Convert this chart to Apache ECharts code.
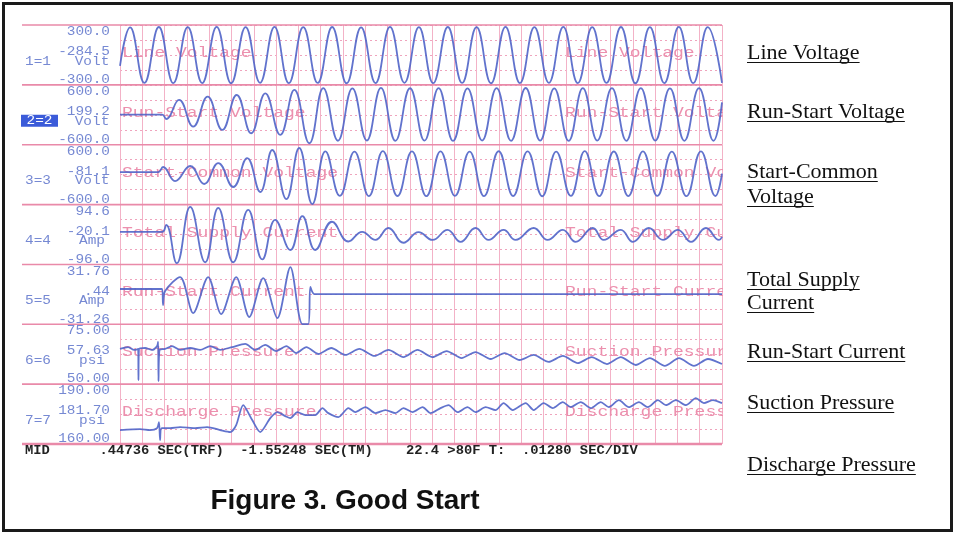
<!DOCTYPE html>
<html><head><meta charset="utf-8">
<script src="https://cdn.jsdelivr.net/npm/echarts@6/dist/echarts.min.js"></script>
<style>html,body{margin:0;padding:0;background:#fff}#c{width:955px;height:534px}</style>
</head><body><div id="c"></div>
<script>
// ---------------- data ----------------
const channelNames = ['Line Voltage','Run-Start Voltage','Start-Common Voltage','Total Supply Current','Run-Start Current','Suction Pressure','Discharge Pressure'];
const channelNamesRight = ['Line Voltage','Run-Start Volta','Start-Common Vo','Total Supply Cu','Run-Start Curre','Suction Pressur','Discharge Press'];
const channelIds = ['1=1','2=2','3=3','4=4','5=5','6=6','7=7'];
const channelUnits = ['Volt','Volt','Volt','Amp','Amp','psi','psi'];
const labelTop = ['300.0','600.0','600.0','94.6','31.76','75.00','190.00'];
const labelMid = ['-284.5','199.2','-81.1','-20.1','.44','57.63','181.70'];
const labelBottom = ['-300.0','-600.0','-600.0','-96.0','-31.26','50.00','160.00'];
const scaleMax = [300, 600, 600, 94.6, 31.76, 75, 190];
const scaleMin = [-300, -600, -600, -96, -31.26, 50, 160];
const msPerDiv = 12.8;
const divisions = 27;
const legendRight = ['Line Voltage','Run-Start Voltage','Start-Common','Voltage','Total Supply','Current','Run-Start Current','Suction Pressure','Discharge Pressure'];
const footerText = 'MID      .44736 SEC(TRF)  -1.55248 SEC(TM)    22.4 >80F T:  .01280 SEC/DIV';
const titleText = 'Figure 3. Good Start';

// time (ms) / value pairs
const lineVoltageT = [0,5.8,14.0,22.3,30.6,38.9,47.2,55.5,63.8,72.1,80.4,88.7,96.9,105.2,113.5,121.8,130.1,138.4,146.7,155.0,163.3,171.6,179.8,188.2,196.4,204.7,213.0,221.3,229.6,237.9,246.2,254.5,262.8,271.1,279.3,287.6,295.9,304.2,312.5,320.8,329.1,337.4,345.6];
const lineVoltageV = [-110,276,-281,280,-283,278,-282,281,-284,279,-280,282,-283,278,-281,280,-284,277,-282,281,-280,279,-283,280,-281,278,-284,281,-282,279,-280,282,-283,278,-281,280,-284,279,-282,281,-283,278,-279];

const runStartVoltT = [0,24.2,26.5,33.9,42.0,50.3,58.7,67.0,75.3,83.4,92.0,100.1,108.7,116.7,125.1,133.4,141.7,149.8,158.1,166.5,174.8,182.9,191.2,199.5,207.9,216.2,224.5,232.9,241.2,249.3,257.6,265.7,274.0,282.4,290.7,299.0,307.3,315.7,324.0,332.4,340.7,345.6];
const runStartVoltV = [5,5,-84,297,-238,363,-304,397,-370,431,-404,498,-571,535,-520,530,-515,538,-522,532,-518,536,-524,530,-516,534,-521,537,-519,531,-523,535,-517,533,-522,536,-518,530,-521,534,-520,250];

const startCommonT = [0,21.9,24.7,31.6,40.3,48.3,56.4,65.0,73.0,80.5,87.4,95.5,102.9,110.4,117.9,126.2,134.6,142.9,150.9,159.3,167.6,175.9,184.0,192.3,200.7,209.0,217.4,225.7,234.0,242.4,250.4,258.8,266.8,275.1,283.5,291.8,300.2,308.5,316.8,325.2,333.5,341.8,345.6];
const startCommonV = [50,50,153,-128,173,-187,233,-248,333,-348,494,-489,534,-589,468,-425,462,-430,470,-428,465,-432,468,-426,463,-430,469,-428,466,-433,462,-427,470,-431,464,-429,467,-425,463,-430,468,-428,20];

const supplyCurrentT = [0,24.2,26.5,32.6,40.3,48.9,56.4,65.0,73.6,81.7,89.1,97.8,104.7,112.1,121.7,131.1,139.0,146.6,154.1,162.7,171.4,179.4,188.0,195.5,204.1,211.6,220.2,227.1,237.5,245.5,254.2,261.6,271.4,277.7,287.5,294.4,303.6,311.7,320.3,327.8,336.4,343.9,345.6];
const supplyCurrentV = [8,8,30,-92,87,-89,84,-89,78,-80,46,-50,58,-50,40,-23,8,-18,20,-27,7,-18,14,-24,20,-18,14,-18,20,-18,14,-24,20,-18,14,-24,20,-18,14,-24,20,-18,-8];

const runStartCurrentT = [0,24.2,24.7,25.9,34.5,42.0,50.6,58.1,66.7,74.2,82.2,90.3,97.8,104.7,108.1,109.3,111.6,345.6];
const runStartCurrentV = [5.9,5.9,-11.0,3.8,18.5,-19.4,18.5,-20.5,18.5,-23.6,17.4,-24.7,29.0,-31.0,-31.0,8.0,0.6,0.6];

const suctionT = [0,4.6,8.1,10.4,10.6,10.9,14.4,18.4,21.3,21.9,22.1,22.7,25.9,29.9,34.5,40.3,46.0,51.8,57.5,64.4,71.9,77.6,83.4,89.7,95.5,101.2,107.0,113.9,121.3,129.4,137.4,146.1,154.1,162.7,170.8,179.4,187.5,196.1,204.1,212.8,220.8,229.4,237.5,246.1,254.2,262.8,270.8,279.5,287.5,296.1,304.2,312.8,320.9,329.5,337.5,345.6];
const suctionV = [64.7,65.5,64.3,64.7,51.7,64.7,65.1,64.3,65.9,67.6,51.3,64.3,64.7,65.9,64.3,65.1,64.3,65.9,64.3,65.5,66.8,64.3,66.4,63.8,65.9,63.0,65.5,62.6,65.1,62.2,64.7,61.8,64.3,61.3,64.3,61.3,63.8,60.9,63.4,60.5,63.0,60.1,62.2,59.3,61.8,58.8,61.3,58.4,61.3,58.0,60.9,57.6,60.9,57.6,60.5,58.4];

const dischargeT = [0,11.5,17.3,21.3,22.4,23.0,23.9,28.8,34.5,43.1,50.0,57.5,63.3,66.7,70.7,75.9,80.5,86.3,90.3,94.9,97.8,101.8,106.4,112.1,116.2,119.6,125.4,131.1,135.1,140.9,146.6,152.4,158.1,162.7,167.9,173.7,178.3,184.0,188.6,193.8,199.5,204.1,209.9,215.6,220.2,225.4,232.9,237.5,243.2,248.4,254.2,258.8,264.5,270.3,276.0,280.6,286.4,292.1,297.9,303.0,308.8,313.4,319.1,324.9,330.6,335.2,340.4,345.6];
const dischargeV = [167.0,167.5,167.0,168.0,171.0,162.0,168.0,168.0,168.5,168.0,168.5,167.0,166.0,169.5,179.5,172.0,166.0,173.0,176.0,174.0,173.0,176.0,174.5,174.5,178.0,175.5,173.5,178.0,176.0,178.5,175.5,177.0,175.5,178.0,176.0,178.5,175.5,178.0,179.5,176.0,178.5,176.0,178.5,177.0,180.5,177.0,180.5,177.0,180.5,178.0,181.0,178.5,181.0,178.0,181.0,178.5,182.0,178.5,181.0,178.5,182.0,179.5,182.0,179.5,183.0,180.5,182.0,180.5];

const traceT = [lineVoltageT, runStartVoltT, startCommonT, supplyCurrentT, runStartCurrentT, suctionT, dischargeT];
const traceV = [lineVoltageV, runStartVoltV, startCommonV, supplyCurrentV, runStartCurrentV, suctionV, dischargeV];
const traceSmooth = [0.45, 0.45, 0.45, 0.45, 0.3, 0.25, 0.25];

// ---------------- layout / style ----------------
const PL = 120, PR = 722, PT = 25, SH = 59.86;
const PINK_MAJOR = '#e98aa9', PINK_GRID = '#f3b2c7', PINK_DOT = '#efa4bd';
const TRACE = '#5064c8', LABEL_BLUE = '#7689d3', NAME_PINK = '#ec90ae';
const monoLbl = '12px "Liberation Mono", "DejaVu Sans Mono", monospace';
const monoName = '15px "Liberation Mono", "DejaVu Sans Mono", monospace';

const chart = echarts.init(document.getElementById('c'), null, {renderer: 'canvas'});
const grids = [], xAxes = [], yAxes = [], series = [], graphics = [];
const zip = (a, b) => a.slice(0, Math.min(a.length, b.length)).map((t, i) => [t, b[i]]);
const txt = (s, x, y, font, fill, align, sx, z) => ({type: 'text', x: x, y: y, scaleX: sx || 1, z: z || 5,
  style: {text: s, x: 0, y: 0, font: font, fill: fill, textAlign: align, textVerticalAlign: 'middle'}});

for (let i = 0; i < 7; i++) {
  const top = PT + i * SH;
  grids.push({left: PL, top: top, width: PR - PL, height: SH, containLabel: false});
  xAxes.push({type: 'value', gridIndex: i, min: 0, max: msPerDiv * divisions, interval: msPerDiv,
    axisLine: {show: false}, axisTick: {show: false}, axisLabel: {show: false},
    splitLine: {show: true, lineStyle: {color: PINK_GRID, width: 1}}});
  yAxes.push({type: 'value', gridIndex: i, min: scaleMin[i], max: scaleMax[i], show: false});
  yAxes.push({type: 'value', gridIndex: i, min: 0, max: 4, interval: 1,
    axisLine: {show: false}, axisTick: {show: false}, axisLabel: {show: false},
    splitLine: {show: true, lineStyle: {color: PINK_DOT, width: 1, type: [2, 3]}}});
  series.push({type: 'line', name: channelNames[i], xAxisIndex: i, yAxisIndex: 2 * i,
    data: zip(traceT[i], traceV[i]), showSymbol: false, symbol: 'none', smooth: traceSmooth[i],
    lineStyle: {color: TRACE, width: 1.8, opacity: 0.9}, z: 4, animation: false});

  graphics.push(txt(labelTop[i], 110, top + 7, monoLbl, LABEL_BLUE, 'right', 1.2));
  graphics.push(txt(labelMid[i], 110, top + 27, monoLbl, LABEL_BLUE, 'right', 1.2));
  graphics.push(txt(channelUnits[i], 92, top + 36.5, monoLbl, LABEL_BLUE, 'center', 1.2));
  graphics.push(txt(labelBottom[i], 110, top + 55, monoLbl, LABEL_BLUE, 'right', 1.2));
  if (i === 1) {
    graphics.push({type: 'rect', z: 5, shape: {x: 21, y: top + 30, width: 37, height: 12}, style: {fill: '#3b5bd9'}});
    graphics.push(txt(channelIds[i], 39.5, top + 36, monoLbl, '#ffffff', 'center', 1.2, 6));
  } else {
    graphics.push(txt(channelIds[i], 25, top + 36.5, monoLbl, LABEL_BLUE, 'left', 1.2));
  }
  graphics.push(txt(channelNames[i], 122, top + 28, monoName, NAME_PINK, 'left', 1.2, 3));
  graphics.push(txt(channelNamesRight[i], 565, top + 28, monoName, NAME_PINK, 'left', 1.2, 3));
}
// white margin that trims the pink names at the plot's right edge
graphics.push({type: 'rect', z: 3.5, shape: {x: 723, y: 20, width: 20, height: 428}, style: {fill: '#ffffff'}});
// channel boundary lines
for (let i = 0; i <= 7; i++) {
  const y = PT + i * SH;
  graphics.push({type: 'line', z: 2, shape: {x1: 22, y1: y, x2: PR, y2: y}, style: {stroke: PINK_MAJOR, lineWidth: i === 7 ? 2.5 : 1.6}});
}
// footer row
graphics.push(txt(footerText, 25, 451, 'bold 12px "Liberation Mono", "DejaVu Sans Mono", monospace', '#222', 'left', 1.15));
// title
graphics.push(txt(titleText, 345, 501, 'bold 28px "Liberation Sans", Arial, sans-serif', '#111', 'center', 1));
// right-hand legend text with underline
const legendY = [53, 112, 172, 197, 280, 303, 352, 403, 465];
const serifFont = '22px "Liberation Serif", "Times New Roman", serif';
const mctx = document.createElement('canvas').getContext('2d');
mctx.font = serifFont;
legendRight.forEach((s, k) => {
  const w = mctx.measureText(s).width;
  graphics.push(txt(s, 747, legendY[k], serifFont, '#111', 'left', 1));
  graphics.push({type: 'line', z: 5, shape: {x1: 747, y1: legendY[k] + 9.5, x2: 747 + w, y2: legendY[k] + 9.5}, style: {stroke: '#111', lineWidth: 1}});
});
// outer frame
graphics.push({type: 'rect', z: 10, shape: {x: 3.5, y: 3.5, width: 948, height: 527}, style: {fill: 'none', stroke: '#1a1a1a', lineWidth: 3}});

chart.setOption({
  backgroundColor: '#ffffff',
  animation: false,
  grid: grids, xAxis: xAxes, yAxis: yAxes, series: series,
  graphic: {elements: graphics}
});
</script></body></html>
